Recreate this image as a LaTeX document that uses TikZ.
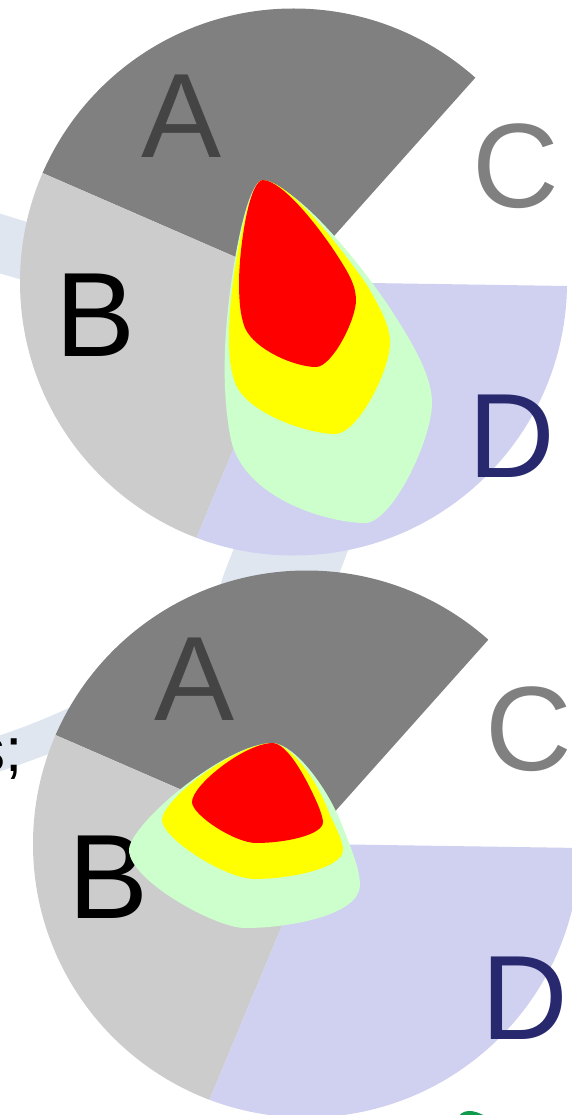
\documentclass[tikz,border=0pt]{standalone}
\usepackage{fontspec}
\setmainfont{Liberation Sans}
\definecolor{wedgeA}{HTML}{808080}
\definecolor{wedgeB}{HTML}{CCCCCC}
\definecolor{wedgeD}{HTML}{D0D0F0}
\definecolor{textA}{HTML}{444444}
\definecolor{textD}{HTML}{28286E}
\definecolor{band}{HTML}{DFE6F0}
\definecolor{ringG}{HTML}{CCFFCC}
\definecolor{ringY}{HTML}{FFFF00}
\definecolor{ringR}{HTML}{FF0000}
\definecolor{inkG}{HTML}{109A4C}
\tikzset{
  biglabel/.style={font=\fontsize{120}{120}\selectfont,inner sep=0pt,anchor=base},
  bandfill/.style={fill=band,draw=none},
}
\newcommand{\piewedges}{%
  \begin{scope}
    \clip (293.5,282) circle[radius=273.5];
    \fill[wedgeA] (293,282) -- (-100,111) -- (-100,-100) -- (600,-100) -- (600,-62) -- cycle;
    \fill[wedgeB] (293,282) -- (-100,111) -- (-100,700) -- (129,700) -- (303,282) -- cycle;
    \fill[wedgeD] (303,282) -- (129,700) -- (700,700) -- (700,288) -- cycle;
  \end{scope}
}
\newcommand{\pielabels}{%
  \node[biglabel,text=textA] (labA) at (182,158) {A};
  \node[biglabel,text=black] (labB) at (96,356) {B};
  \node[biglabel,text=wedgeA] (labC) at (516,208) {C};
  \node[biglabel,text=textD] (labD) at (512,477) {D};
}
\begin{document}
\begin{tikzpicture}[x=1pt,y=-1pt]
\useasboundingbox (0,0) rectangle (572,1115);
% pale band behind the pies
\fill[bandfill] (-5,212) -- (40,226) -- (40,285) -- (-5,272) -- cycle;
\fill[bandfill] (237,540) -- (352,540) -- (335,585) -- (218,595) .. controls (222,575) and (230,560) .. (237,540) -- cycle;
\fill[bandfill] (-5,737) .. controls (25,727) and (50,717) .. (75,705) -- (60,750) .. controls (40,757) and (20,765) .. (-5,773) -- cycle;
% first pie
\begin{scope}[name prefix=p-]
  \piewedges
  \fill[ringG] (263,180) .. controls (297,188) and (350,250) .. (388,305)
    .. controls (412,342) and (432,375) .. (432,403)
    .. controls (432,440) and (392,523) .. (365,523)
    .. controls (330,523) and (245,500) .. (231,440)
    .. controls (225,410) and (224,380) .. (225,350)
    .. controls (227,290) and (245,180) .. (263,180) -- cycle;
  \fill[ringY] (263,180) .. controls (287,182) and (328,230) .. (367,285)
    .. controls (380,308) and (390,325) .. (390,343)
    .. controls (390,370) and (358,434) .. (335,434)
    .. controls (310,434) and (250,415) .. (236,385)
    .. controls (230,370) and (229,355) .. (229,335)
    .. controls (229,285) and (247,180) .. (263,180) -- cycle;
  \fill[ringR] (263,180) .. controls (282,181) and (315,222) .. (335,252)
    .. controls (348,272) and (356,285) .. (356,300)
    .. controls (356,320) and (332,367) .. (316,367)
    .. controls (295,367) and (255,350) .. (245,328)
    .. controls (240,315) and (239,300) .. (239,280)
    .. controls (240,240) and (250,180) .. (263,180) -- cycle;
  \pielabels
\end{scope}
% second pie
\begin{scope}[shift={(13,562)},name prefix=q-]
  \piewedges
  \pielabels
\end{scope}
\begin{scope}
  \fill[ringG] (273,743) .. controls (295,745) and (325,785) .. (340,820)
    .. controls (352,850) and (360,870) .. (360,885)
    .. controls (360,915) and (290,928) .. (245,928)
    .. controls (215,928) and (129,880) .. (129,850)
    .. controls (129,825) and (225,743) .. (273,743) -- cycle;
  \fill[ringY] (273,743) .. controls (290,745) and (315,775) .. (330,815)
    .. controls (338,832) and (343,842) .. (343,850)
    .. controls (343,868) and (290,879) .. (255,879)
    .. controls (225,879) and (162,838) .. (162,820)
    .. controls (162,800) and (235,743) .. (273,743) -- cycle;
  \fill[ringR] (273,743) .. controls (287,744) and (305,775) .. (318,805)
    .. controls (322,815) and (323,820) .. (323,822)
    .. controls (323,835) and (285,843) .. (256,843)
    .. controls (235,843) and (192,815) .. (192,802)
    .. controls (192,785) and (245,743) .. (273,743) -- cycle;
\end{scope}
% cut-off text and mark at the margins
\node[font=\fontsize{62}{62}\selectfont,inner sep=0pt,anchor=base east,text=black] (cut) at (23,771) {s;};
\draw[inkG,line width=4pt] (460,1119) .. controls (462,1112) and (472,1110) .. (486,1119);
\end{tikzpicture}
\end{document}
